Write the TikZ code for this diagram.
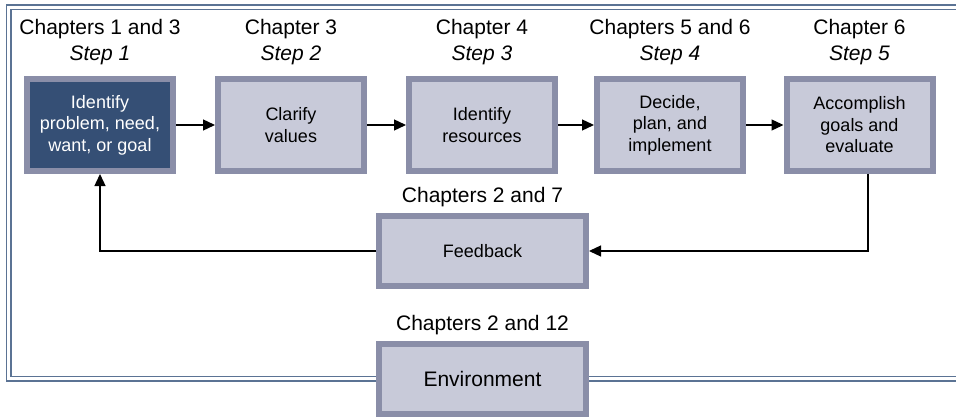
\documentclass[tikz,border=0pt]{standalone}
\usepackage{fontspec}
\setmainfont{Liberation Sans}
\usetikzlibrary{arrows.meta,positioning}

\definecolor{stepfill}{HTML}{C8CAD9}
\definecolor{stepedge}{HTML}{8A8EA8}
\definecolor{startfill}{HTML}{354F75}
\definecolor{framecol}{HTML}{5B7394}

\tikzset{
  stepbox/.style={draw=stepedge,line width=6pt,fill=stepfill,minimum width=146pt,minimum height=92pt,
    align=center,font=\fontsize{18}{21.5}\selectfont},
  widebox/.style={stepbox,minimum width=207pt,minimum height=70pt},
  heading/.style={align=center,inner sep=0pt,font=\fontsize{21}{26}\selectfont},
  frame/.style={draw=framecol,line width=1.5pt,double=white,double distance=3pt},
}

\begin{document}
\begin{tikzpicture}[x=1pt,y=-1pt,>={Triangle[length=12pt,width=11pt]},line width=1.3pt]
\useasboundingbox (0,0) rectangle (956,417);

% the five steps
\node[stepbox,fill=startfill,text=white] (s1) at (100,125) {Identify\\problem, need,\\want, or goal};
\node[stepbox] (s2) at (291,125) {Clarify\\values};
\node[stepbox] (s3) at (482,125) {Identify\\resources};
\node[stepbox] (s4) at (670,125) {Decide,\\plan, and\\implement};
\node[stepbox] (s5) at (859.5,125) {Accomplish\\goals and\\evaluate};

\node[heading,above=10pt of s1] (h1) {Chapters 1 and 3\\\textit{Step 1}};
\node[heading,above=10pt of s2] (h2) {Chapter 3\\\textit{Step 2}};
\node[heading,above=10pt of s3] (h3) {Chapter 4\\\textit{Step 3}};
\node[heading,above=10pt of s4] (h4) {Chapters 5 and 6\\\textit{Step 4}};
\node[heading,above=10pt of s5] (h5) {Chapter 6\\\textit{Step 5}};

% feedback and environment
\node[widebox] (fb) at (482.5,251) {Feedback};
\node[widebox,font=\fontsize{21}{26}\selectfont] (env) at (482.5,378.5) {Environment};
\node[heading,above=5pt of fb] (hfb) {Chapters 2 and 7};
\node[heading,above=5pt of env] (henv) {Chapters 2 and 12};

% double frame, cut by the environment box
\draw[frame] (env.west) -| (8.5,7.2) -- (956,7.2);
\draw[frame] (env.east) -- (956,378.5);

\draw[->] (s1) -- (s2);
\draw[->] (s2) -- (s3);
\draw[->] (s3) -- (s4);
\draw[->] (s4) -- (s5);
\draw[->] ([xshift=8.5pt]s5.south) |- (fb.east);
\draw[->] (fb.west) -| (s1.south);

\end{tikzpicture}
\end{document}
